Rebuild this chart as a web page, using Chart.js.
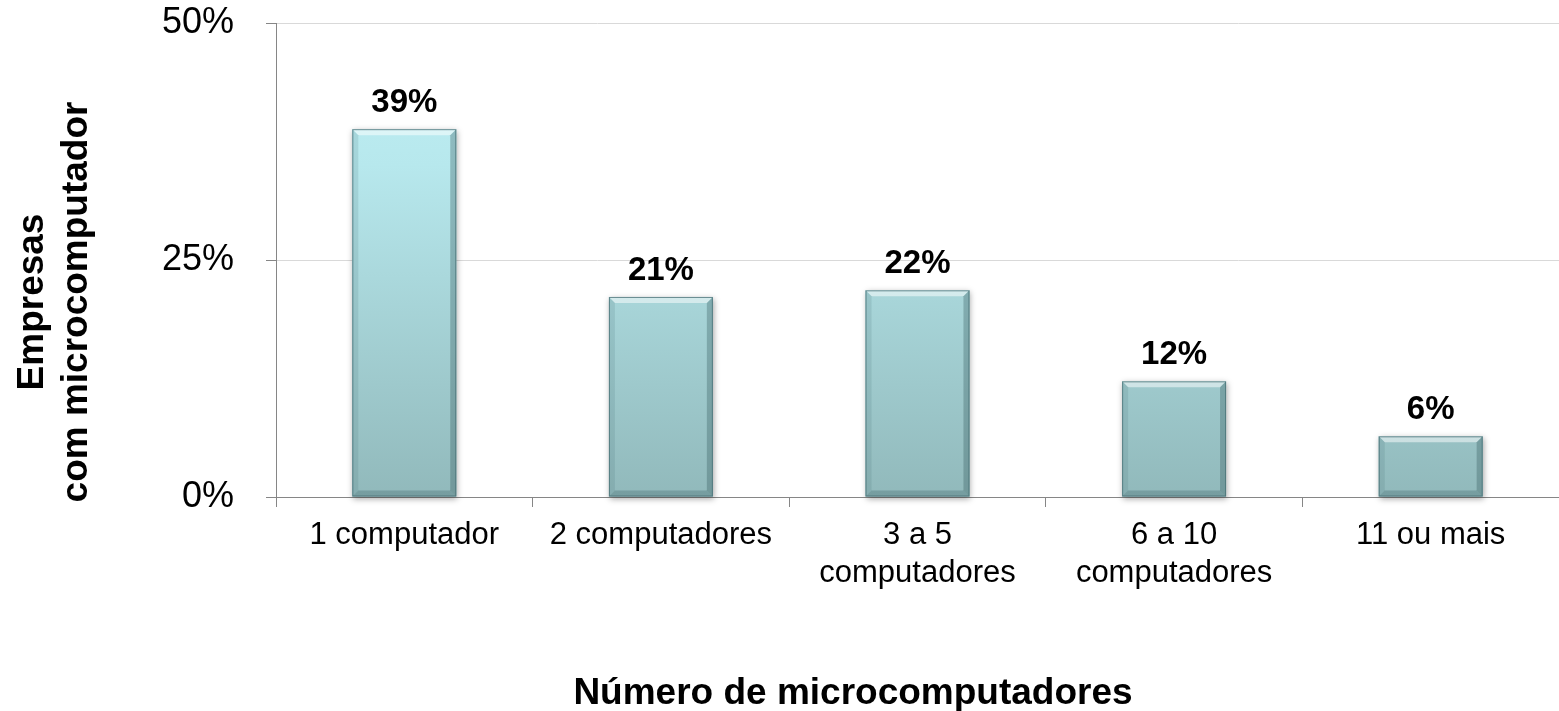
<!DOCTYPE html>
<html>
<head>
<meta charset="utf-8">
<script src="https://cdn.jsdelivr.net/npm/chart.js@4/dist/chart.umd.min.js"></script>
<style>
    html, body { margin: 0; padding: 0; background: #fff; }
    #wrap { width: 1559px; height: 711px; position: relative; }
</style>
</head>
<body>
<div id="wrap"><canvas id="chart"></canvas></div>
<script>
// Data
const categories = ['1 computador', '2 computadores', ['3 a 5', 'computadores'], ['6 a 10', 'computadores'], '11 ou mais'];
const shares = [38.8, 21.1, 21.8, 12.2, 6.4];
const shareLabels = ['39%', '21%', '22%', '12%', '6%'];
const yTicks = [0, 25, 50];
const yTitle = ['Empresas', 'com microcomputador'];
const xTitle = 'Número de microcomputadores';

const FONT = "'Liberation Sans', Arial, sans-serif";

/**
 * Vertical gradient for the bar bodies
 */
function barGradient(context) {
    const chart = context.chart;
    const area = chart.chartArea;
    if (!area) return '#aad6da';
    const g = chart.ctx.createLinearGradient(0, area.top, 0, area.bottom);
    g.addColorStop(0, '#c2f1f6');
    g.addColorStop(0.3, '#b7e8ed');
    g.addColorStop(1, '#91b9bb');
    return g;
}

// Bevel edges, shadow and value labels for every bar
const bevelPlugin = {
    id: 'bevel',
    beforeDatasetsDraw(chart) {
        const ctx = chart.ctx;
        chart.getDatasetMeta(0).data.forEach(bar => {
            const x0 = bar.x - bar.width / 2, x1 = bar.x + bar.width / 2;
            ctx.save();
            ctx.shadowColor = 'rgba(0,0,0,0.35)';
            ctx.shadowBlur = 6;
            ctx.shadowOffsetX = 1;
            ctx.shadowOffsetY = 2;
            ctx.fillStyle = '#9cc4c7';
            ctx.fillRect(x0, bar.y, x1 - x0, bar.base - bar.y);
            ctx.restore();
        });
    },
    afterDatasetsDraw(chart) {
        const ctx = chart.ctx;
        const b = 6;
        chart.getDatasetMeta(0).data.forEach(bar => {
            const x0 = bar.x - bar.width / 2, x1 = bar.x + bar.width / 2;
            const y0 = bar.y, y1 = bar.base;
            ctx.save();
            // top highlight
            ctx.fillStyle = 'rgba(255,255,255,0.5)';
            ctx.beginPath();
            ctx.moveTo(x0, y0); ctx.lineTo(x1, y0); ctx.lineTo(x1 - b, y0 + b); ctx.lineTo(x0 + b, y0 + b);
            ctx.closePath(); ctx.fill();
            // left edge
            ctx.fillStyle = 'rgba(60,100,105,0.15)';
            ctx.beginPath();
            ctx.moveTo(x0, y0); ctx.lineTo(x0 + b, y0 + b); ctx.lineTo(x0 + b, y1 - b); ctx.lineTo(x0, y1);
            ctx.closePath(); ctx.fill();
            // right edge
            ctx.fillStyle = 'rgba(40,75,80,0.3)';
            ctx.beginPath();
            ctx.moveTo(x1, y0); ctx.lineTo(x1 - b, y0 + b); ctx.lineTo(x1 - b, y1 - b); ctx.lineTo(x1, y1);
            ctx.closePath(); ctx.fill();
            // bottom edge
            ctx.fillStyle = 'rgba(40,75,80,0.25)';
            ctx.beginPath();
            ctx.moveTo(x0, y1); ctx.lineTo(x0 + b, y1 - b); ctx.lineTo(x1 - b, y1 - b); ctx.lineTo(x1, y1);
            ctx.closePath(); ctx.fill();
            // outline
            ctx.strokeStyle = 'rgba(70,110,115,0.75)';
            ctx.lineWidth = 1;
            ctx.strokeRect(x0 + 0.5, y0 + 0.5, x1 - x0 - 1, y1 - y0 - 1);
            ctx.restore();
        });

        // value labels above bars
        ctx.save();
        ctx.font = 'bold 33px ' + FONT;
        ctx.fillStyle = '#000';
        ctx.textAlign = 'center';
        ctx.textBaseline = 'alphabetic';
        chart.getDatasetMeta(0).data.forEach((bar, i) => {
            ctx.fillText(shareLabels[i], bar.x, bar.y - 17);
        });
        ctx.restore();
    }
};

// Axis titles, placed where the reference has them
const titlesPlugin = {
    id: 'axisTitles',
    afterDraw(chart) {
        const ctx = chart.ctx;
        ctx.save();
        ctx.font = 'bold 37px ' + FONT;
        ctx.fillStyle = '#000';
        ctx.textAlign = 'center';
        ctx.textBaseline = 'alphabetic';
        ctx.fillText(xTitle, 853, 704);

        ctx.translate(0, 302);
        ctx.rotate(-Math.PI / 2);
        yTitle.forEach((line, i) => {
            ctx.fillText(line, 0, 43 + i * 44);
        });
        ctx.restore();
    }
};

new Chart(document.getElementById('chart'), {
    type: 'bar',
    data: {
        labels: categories,
        datasets: [{
            data: shares,
            backgroundColor: barGradient,
            borderWidth: 0,
            barPercentage: 0.405,
            categoryPercentage: 1
        }]
    },
    options: {
        responsive: true,
        maintainAspectRatio: false,
        animation: false,
        layout: { padding: { top: 23, right: 0, bottom: 0, left: 0 } },
        plugins: {
            legend: { display: false },
            tooltip: { enabled: false }
        },
        scales: {
            x: {
                grid: {
                    offset: true,
                    drawOnChartArea: false,
                    color: '#868686',
                    tickLength: 10
                },
                border: { color: '#868686', width: 1 },
                ticks: {
                    color: '#000',
                    padding: 10,
                    maxRotation: 0,
                    autoSkip: false,
                    font: { family: FONT, size: 31, lineHeight: 1.22 }
                },
                afterFit(scale) {
                    scale.height = 214;
                    scale.paddingLeft = 0;
                    scale.paddingRight = 0;
                }
            },
            y: {
                min: 0,
                max: 50,
                afterBuildTicks(scale) { scale.ticks = yTicks.map(v => ({ value: v })); },
                grid: {
                    color: '#d9d9d9',
                    tickColor: '#868686',
                    tickLength: 10
                },
                border: { color: '#868686', width: 1 },
                ticks: {
                    color: '#000',
                    padding: 32,
                    font: { family: FONT, size: 36 },
                    callback: v => v + '%'
                },
                afterFit(scale) {
                    scale.width = 276;
                    scale.paddingTop = 0;
                    scale.paddingBottom = 0;
                }
            }
        }
    },
    plugins: [bevelPlugin, titlesPlugin]
});
</script>
</body>
</html>
